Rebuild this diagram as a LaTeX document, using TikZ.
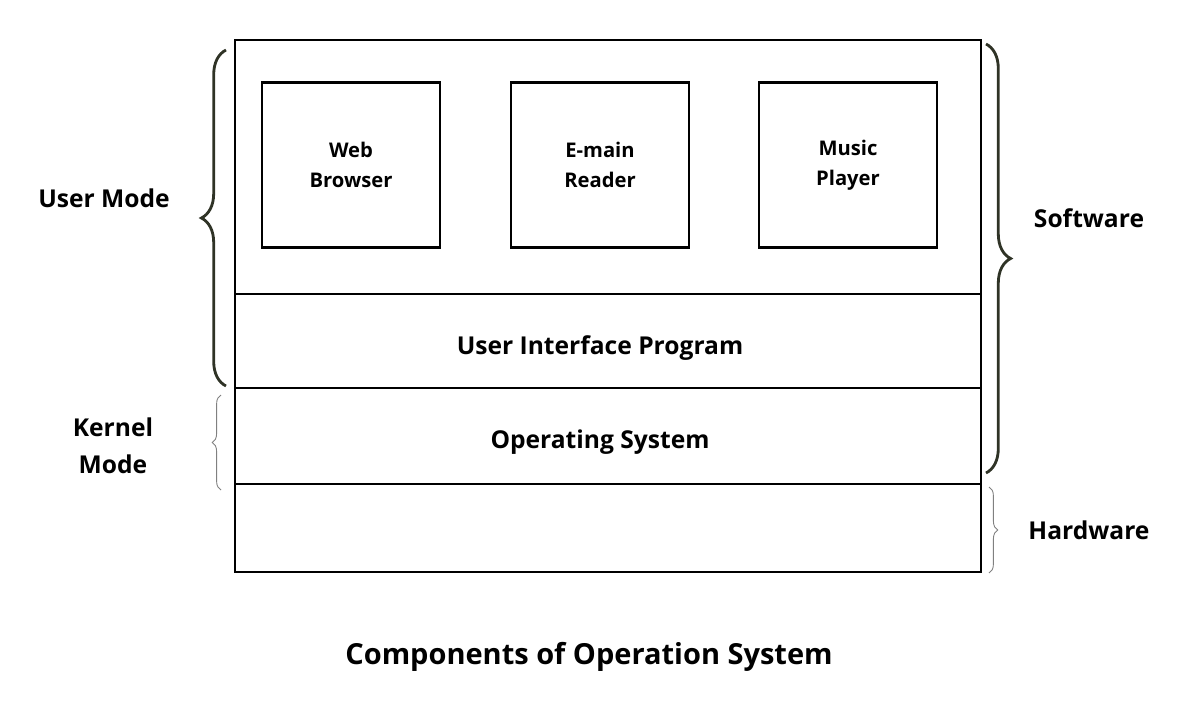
\documentclass[tikz,border=0pt]{standalone}
\usepackage{fontspec}
\setmainfont{Open Sans}
\usetikzlibrary{positioning, decorations.pathreplacing}
\definecolor{bracedark}{HTML}{2F3326}
\tikzset{
layer/.style={draw, line width=1.3pt, inner sep=0},
app/.style={draw, line width=1.3pt, minimum width=3.56cm, minimum height=3.3cm, align=center, font=\bfseries\fontsize{11.5}{17}\selectfont},
side/.style={font=\bfseries\fontsize{14}{21}\selectfont, align=center},
bigbrace/.style={draw=bracedark, line width=1.6pt, decorate, decoration={brace, amplitude=14pt}},
thinbrace/.style={draw=gray, line width=0.5pt, decorate, decoration={brace, amplitude=5pt}}}
\begin{document}
\begin{tikzpicture}[x=0.02cm, y=-0.02cm]
\useasboundingbox (0,0) rectangle (1200,700);
% layers
\draw [layer] (235,40) rectangle (981,572);
\draw [layer] (235,294) -- (981,294);
\draw [layer] (235,388) -- (981,388);
\draw [layer] (235,484) -- (981,484);
% applications
\node [app] at (351,165) (web) {Web\\Browser};
\node [app] at (600,165) (mail) {E-main\\Reader};
\node [app] at (848,165) (music) {Music\\Player\vphantom{g}};
\node [side] at (600,348) (uip) {User Interface Program};
\node [side] at (600,442) (os) {Operating System};
% modes
\coordinate (um-top) at (226,50);
\coordinate (um-bot) at (226,386);
\draw [bigbrace] (um-bot) -- (um-top);
\node [side] at (104,198) (user) {User Mode};
\coordinate (km-top) at (221,395);
\coordinate (km-bot) at (221,490);
\draw [thinbrace] (km-bot) -- (km-top);
\node [side] at (113,446) (kernel) {Kernel\\Mode};
\coordinate (sw-top) at (986,44);
\coordinate (sw-bot) at (986,473);
\draw [bigbrace] (sw-top) -- (sw-bot);
\node [side] at (1089,218) (soft) {Software};
\coordinate (hw-top) at (989,487);
\coordinate (hw-bot) at (989,573);
\draw [thinbrace] (hw-top) -- (hw-bot);
\node [side] at (1089,530) (hard) {Hardware};
\node [font=\bfseries\fontsize{16.5}{20}\selectfont] at (589,657) (title) {Components of Operation System};
\end{tikzpicture}
\end{document}
